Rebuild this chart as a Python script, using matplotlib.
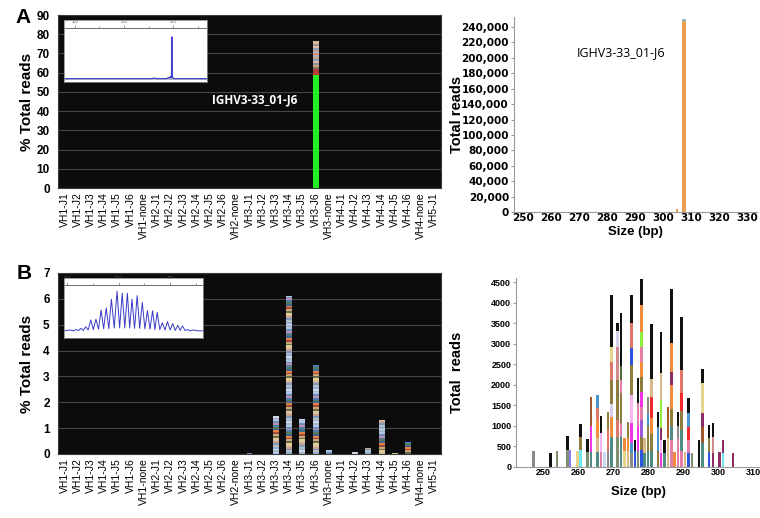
import numpy as np
import matplotlib.pyplot as plt

plt.rcParams['font.family'] = ['Liberation Sans', 'DejaVu Sans']

# categories (V-J pairs)
cats = ['VH1-J1', 'VH1-J2', 'VH1-J3', 'VH1-J4', 'VH1-J5', 'VH1-J6', 'VH1-none',
        'VH2-J1', 'VH2-J2', 'VH2-J3', 'VH2-J4', 'VH2-J5', 'VH2-J6', 'VH2-none',
        'VH3-J1', 'VH3-J2', 'VH3-J3', 'VH3-J4', 'VH3-J5', 'VH3-J6', 'VH3-none',
        'VH4-J1', 'VH4-J2', 'VH4-J3', 'VH4-J4', 'VH4-J5', 'VH4-J6', 'VH4-none',
        'VH5-J1']

# panel A, left: one dominant clone in VH3-J6
a_cat = 'VH3-J6'
a_tops = [59, 60.5, 62, 63, 64, 65, 66, 67, 68, 69, 70, 71, 72, 73, 74, 75, 76.5]
a_cols = ['#22ee22', '#c03838', '#b04040', '#8a7a6a', '#c8a878', '#9090a0', '#d8b8a0',
          '#7fa0c8', '#c8a070', '#b0b0c0', '#d89070', '#a0b8d8', '#c0a888', '#8fa0b8',
          '#e0c0a0', '#a890a0', '#d8b890']

# panel A, right: size distribution
a_size = [305, 307.5]
a_reads = [3500, 248500]
a_top_blue = 2500

# panel B, left: polyclonal repertoire (% total reads)
b_cats = ['VH3-J1', 'VH3-J3', 'VH3-J4', 'VH3-J5', 'VH3-J6', 'VH3-none',
          'VH4-J2', 'VH4-J3', 'VH4-J4', 'VH4-J5', 'VH4-J6']
b_pct = [0.04, 1.45, 6.1, 1.35, 3.45, 0.15, 0.07, 0.22, 1.3, 0.05, 0.45]

# panel B, right: stacked reads per size
b_size = [247.4, 252.2, 254.1, 257.1, 257.8, 259.9, 260.8, 262.8, 263.7, 265.6, 266.6,
          267.5, 268.5, 269.5, 271.3, 272.3, 273.2, 274.2, 275.2, 276.2, 277.1, 278.1,
          279.0, 280.0, 280.9, 282.8, 283.7, 284.7, 285.6, 286.6, 287.5, 288.5, 289.4,
          290.5, 291.5, 292.4, 294.4, 295.4, 297.3, 298.4, 300.3, 301.3, 304.1]
b_tops = [[390], [330], [390], [413, 754], [413], [400], [413, 738, 1046], [373, 681],
          [373, 997, 1695], [373, 697, 1143, 1428, 1740], [373, 819, 1250], [370],
          [400, 900, 1340], [738, 1224, 1533, 2117, 2562, 2927, 4185],
          [738, 1143, 2117, 2927, 3300, 3500],
          [738, 1063, 1793, 2117, 2457, 3740], [400, 700], [400, 700, 1100],
          [330, 584, 1063, 1752, 2482, 2888, 3496, 4185], [400, 650],
          [400, 1000, 1549, 2173],
          [413, 738, 1143, 1467, 1832, 2197, 2562, 2927, 3292, 3941, 4580],
          [350, 697], [400, 1000, 1300, 1711], [400, 800, 1200, 1700, 2133, 3472],
          [400, 980, 1346], [330, 650, 941, 1630, 1900, 2279, 3292], [330, 660],
          [700, 1460], [650, 1000, 1400, 1995, 2300, 3009, 4323], [373], [700, 1000, 1346],
          [400, 900, 1350, 1800, 2360, 3642], [373], [330, 657, 981, 1321, 1671], [333],
          [660], [576, 981, 1321, 2036, 2384], [373, 697, 1022], [330, 738, 1062],
          [365], [330, 660], [333]]
b_keys = [['gray'], ['black'], ['sage'], ['sage', 'black'], ['violet'], ['khaki'],
          ['cyan', 'olive', 'black'], ['sage', 'black'], ['teal', 'magenta', 'brown'],
          ['teal', 'tan', 'orange', 'salmon', 'steel'], ['pink', 'lightpink', 'black'],
          ['lightblue'], ['gray', 'salmon', 'olive'],
          ['teal', 'orange', 'lavender', 'olive', 'salmon', 'khaki', 'black'],
          ['sage', 'salmon', 'olive', 'rose', 'lavender', 'black'],
          ['teal', 'pink', 'olive', 'pink', 'darkolive', 'black'], ['khaki', 'orange'],
          ['tan', 'orange', 'olive'],
          ['gray', 'steel', 'magenta', 'lightpink', 'olive', 'blue', 'salmon', 'black'],
          ['blue', 'black'], ['sage', 'magenta', 'pink', 'black'],
          ['blue', 'olive', 'purple', 'pink', 'magenta', 'olive', 'orange', 'pink',
           'green', 'orange', 'black'],
          ['teal', 'tan'], ['teal', 'olive', 'steel', 'graybrown'],
          ['teal', 'olive', 'orange', 'red', 'tan', 'black'], ['olive', 'steel', 'black'],
          ['magenta', 'lightpink', 'maroon', 'green', 'tan', 'tan', 'black'],
          ['teal', 'black'], ['tan', 'brown'],
          ['pink', 'teal', 'olive', 'orange', 'maroon', 'orange', 'black'], ['orange'],
          ['pink', 'gray', 'black'], ['pink', 'teal', 'olive', 'red', 'salmon', 'black'],
          ['tan'], ['blue', 'pink', 'red', 'steel', 'black'], ['sage'], ['black'],
          ['teal', 'brown', 'maroon', 'khaki', 'black'], ['blue', 'olive', 'black'],
          ['maroon', 'rose', 'black'], ['maroon'], ['cyan', 'maroon'], ['maroon']]

# inset traces (electropherograms)
ia_x = [78, 255, 262, 266, 286, 290, 292, 294, 296, 297, 298, 300, 310, 368]
ia_y = [0, 0, 1.5, 0, 0, 3, 1, 5, 2, 100, 6, 0, 0, 0]
ib_peak_x = [207, 217, 227, 236, 246, 256, 266, 276, 286, 297, 307, 317, 326, 336, 346,
             356, 366, 375, 385, 395, 405, 415, 424, 434, 444]
ib_peak_y = [3, 4, 7, 11, 28, 30, 53, 58, 80, 100, 95, 95, 80, 89, 72, 51, 51, 47, 21,
             24, 19, 15, 13, 4, 3]
ib_valley_y = [1, 2, 2, 3, 4, 5, 6, 6, 8, 8, 8, 8, 7, 7, 6, 5, 4, 4, 3, 3, 2, 2, 2, 1]

pal = {'black': '#111111', 'gray': '#8a8a8a', 'sage': '#7d8f6e', 'violet': '#8a7cf0',
       'khaki': '#e6d38c', 'cyan': '#6ee8f2', 'olive': '#8f7d3e', 'teal': '#4f8c85',
       'magenta': '#f233e6', 'brown': '#a0582c', 'tan': '#d9b98a', 'orange': '#f28c3a',
       'salmon': '#e3766b', 'steel': '#4a94cc', 'pink': '#e37fa6', 'lightpink': '#f7b3f2',
       'lightblue': '#c9d9f2', 'lavender': '#d8d0ea', 'rose': '#d28a8a',
       'darkolive': '#556b2f', 'blue': '#2d55e0', 'purple': '#9a5ad6', 'green': '#8cf03c',
       'maroon': '#8c2d66', 'red': '#f02a2a', 'graybrown': '#9a8880'}
stripe_pal = ['#6f8fb8', '#c8a878', '#8fb0d8', '#5a7a5a', '#d8c0a0', '#b0c8e8', '#9c4a3a',
              '#bcbcbc', '#4a80b0', '#e0d090', '#a8b8c8', '#e88040', '#7a9ac0', '#c090b0',
              '#6a6a50', '#d0d8e8', '#3a6a9a', '#c8a090']
stripe = 0.07
dark = '#0c0c0c'
x = np.arange(len(cats))

fig = plt.figure(figsize=(7.6, 5.18), dpi=100)


def dark_panel(rect, ymax, step):
    ax = fig.add_axes(rect)
    ax.set_facecolor(dark)
    ax.set_xlim(-0.5, len(cats) - 0.5)
    ax.set_ylim(0, ymax)
    ax.set_yticks(np.arange(0, ymax + 0.1, step))
    ax.yaxis.grid(True, color='#454545', lw=0.8)
    ax.set_axisbelow(True)
    for s in ax.spines.values():
        s.set_color('#3a3a3a')
    ax.set_xticks(x)
    ax.set_xticklabels(cats, rotation=90, fontsize=7.5)
    ax.tick_params(axis='x', length=0, pad=3)
    ax.tick_params(axis='y', length=0, pad=6, labelsize=8.5)
    for t in ax.get_yticklabels():
        t.set_fontweight('bold')
    ax.set_ylabel('% Total reads', fontsize=11, fontweight='bold')
    ax.yaxis.set_label_coords(-0.062, 0.5)
    return ax


# ---- A left
ax1 = dark_panel([0.0763, 0.637, 0.504, 0.334], 90, 10)
xi = cats.index(a_cat)
bot = 0
for t, c in zip(a_tops, a_cols):
    ax1.bar(xi, t - bot, bottom=bot, width=0.45, color=c, lw=0)
    bot = t
ax1.text(14.4, 46, 'IGHV3-33_01-J6', color='white', fontsize=8.5, fontweight='bold',
         family='Open Sans', ha='center', va='center')

# ---- B left
ax3 = dark_panel([0.0763, 0.1236, 0.504, 0.3494], 7, 1)
k = 0
for cname, tot in zip(b_cats, b_pct):
    xi = cats.index(cname)
    tops = np.append(np.arange(stripe, tot, stripe), tot)
    bot = 0
    for t in tops:
        ax3.bar(xi, t - bot, bottom=bot, width=0.45, color=stripe_pal[k % len(stripe_pal)], lw=0)
        bot = t
        k += 5


def white_panel(rect):
    ax = fig.add_axes(rect)
    for s in ['top', 'right']:
        ax.spines[s].set_visible(False)
    for s in ['left', 'bottom']:
        ax.spines[s].set_color('#9a9a9a')
    ax.tick_params(axis='x', length=0, pad=1)
    ax.tick_params(axis='y', length=2.5, color='#9a9a9a', pad=1)
    return ax


# ---- A right
ax2 = white_panel([0.676, 0.5907, 0.320, 0.3764])
ax2.bar(a_size, a_reads, width=[0.8, 1.2], color='#e8a050', lw=0)
ax2.bar(a_size[1], a_top_blue, bottom=a_reads[1], width=1.2, color='#8fb4d8', lw=0)
ax2.set_xlim(246.7, 333.6)
ax2.set_ylim(0, 253000)
ax2.set_xticks(np.arange(250, 331, 10))
ax2.set_yticks(np.arange(0, 240001, 20000))
ax2.set_yticklabels(['{:,}'.format(v) for v in range(0, 240001, 20000)])
for t in ax2.get_xticklabels() + ax2.get_yticklabels():
    t.set_family('DejaVu Sans')
    t.set_fontweight('bold')
    t.set_fontsize(7.5)
ax2.set_xlabel('Size (bp)', fontsize=9.5, fontweight='bold', labelpad=2)
ax2.set_ylabel('Total reads', fontsize=10.5, fontweight='bold')
ax2.yaxis.set_label_coords(-0.205, 0.5)
ax2.text(285, 207000, 'IGHV3-33_01-J6', fontsize=9, family='Open Sans',
         ha='center', va='center')

# ---- B right
ax4 = white_panel([0.679, 0.0985, 0.321, 0.365])
for p, tops, keys in zip(b_size, b_tops, b_keys):
    bot = 0
    for t, kk in zip(tops, keys):
        ax4.bar(p, t - bot, bottom=bot, width=0.72, color=pal[kk], lw=0)
        bot = t
ax4.set_xlim(242.4, 311.8)
ax4.set_ylim(0, 4600)
ax4.set_xticks(np.arange(250, 311, 10))
ax4.set_yticks(np.arange(0, 4501, 500))
for t in ax4.get_xticklabels() + ax4.get_yticklabels():
    t.set_fontweight('bold')
    t.set_fontsize(6.5)
ax4.set_xlabel('Size (bp)', fontsize=9.5, fontweight='bold', labelpad=6)
ax4.set_ylabel('Total  reads', fontsize=10.5, fontweight='bold')
ax4.yaxis.set_label_coords(-0.215, 0.5)


# ---- insets
def inset(rect, xlim, ylim, ruler, ticks, minor):
    ax = fig.add_axes(rect)
    ax.set_facecolor('white')
    ax.set_xlim(*xlim)
    ax.set_ylim(*ylim)
    ax.set_xticks([])
    ax.set_yticks([])
    for s in ax.spines.values():
        s.set_color('#8a8a8a')
        s.set_linewidth(0.6)
    sec = ax.secondary_xaxis(ruler)
    sec.set_xticks(ticks)
    sec.set_xticks(minor, minor=True)
    sec.tick_params(labelsize=3, length=2, width=0.4, pad=1, colors='#555555')
    sec.tick_params(which='minor', length=1.5, width=0.4, colors='#555555')
    sec.spines['top'].set_color('#555555')
    sec.spines['top'].set_linewidth(0.6)
    return ax


ia = inset([0.0842, 0.8417, 0.188, 0.1197], (78, 368), (-8, 140), 0.865,
           [100, 200, 300], [150, 250, 350])
ia.axhline(0, color='#b8b8c8', lw=1.4)
ia.plot(ia_x, ia_y, color='#3a3ac8', lw=0.8)

ib_x = [194]
ib_y = [1]
for i in range(len(ib_peak_x)):
    ib_x.append(ib_peak_x[i])
    ib_y.append(ib_peak_y[i])
    if i < len(ib_valley_y):
        ib_x.append((ib_peak_x[i] + ib_peak_x[i + 1]) / 2)
        ib_y.append(ib_valley_y[i])
ib_x += [454, 464]
ib_y += [1, 1]
ib = inset([0.0842, 0.3475, 0.183, 0.1158], (194, 464), (-17, 133), 0.89,
           [200, 300, 400], [250, 350, 450])
ib.plot(ib_x, ib_y, color='#3a3ac8', lw=0.7)

fig.text(15 / 760, 1 - 23 / 518, 'A', fontsize=15, fontweight='bold', va='baseline')
fig.text(17 / 760, 1 - 279 / 518, 'B', fontsize=15, fontweight='bold', va='baseline')

fig.savefig('out.png', dpi=100)
